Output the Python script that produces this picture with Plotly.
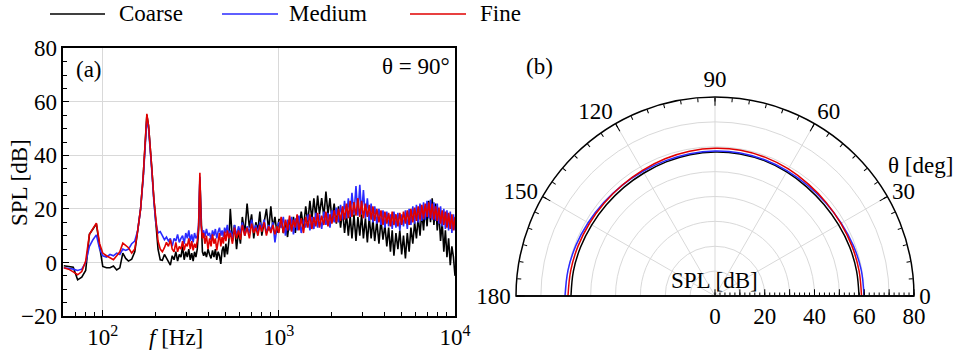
import plotly.graph_objects as go

W, H = 957, 354
FONT = "Liberation Serif, Times New Roman, Times, serif"
FS = 23

# ---------------- data: (a) spectrum at theta = 90 deg ----------------
freq_hz = [
    60, 64, 68, 72, 76, 80, 84, 88, 92, 96,
    100, 105, 110, 115, 120, 125, 130, 135, 140, 146,
    152, 158, 164, 170, 174, 178, 182, 186, 190, 195,
    200, 206, 212, 218, 224, 230, 236, 242, 248, 254,
    260, 266, 272, 278, 284, 290, 296,
    302, 308, 314, 320, 326, 332, 338, 344, 350, 356,
    362, 368, 374, 380, 388, 396, 404, 412, 420, 428,
    436, 444, 452, 460, 468, 476, 484, 492, 500, 510, 520,
    530, 545, 560, 575, 590, 605, 620, 640, 660, 680,
    700, 720, 740, 760, 780, 800, 825, 850, 875, 900,
    925, 950, 975, 1000,
    1030, 1060, 1090, 1120, 1150, 1180, 1210, 1240, 1270, 1300,
    1340, 1380, 1420, 1460, 1500, 1540, 1580, 1620, 1660, 1700,
    1750, 1800, 1850, 1900, 1950, 2000, 2060, 2120, 2180, 2240,
    2300, 2360, 2420, 2480, 2540, 2600, 2670, 2740, 2810, 2880,
    2950, 3020, 3100, 3180, 3260, 3340, 3420, 3500, 3600, 3700,
    3800, 3900, 4000, 4100, 4200, 4300, 4400, 4500, 4620, 4740,
    4860, 4980, 5100, 5230, 5360, 5490, 5620, 5760, 5900, 6040,
    6180, 6330, 6480, 6630, 6780, 6940, 7100, 7260, 7420, 7590,
    7760, 7930, 8100, 8280, 8460, 8640, 8820, 9000, 9200, 9400,
    9600, 9800, 10000,
]

spl_coarse = [
    -1.2, -1.5, -1.8, -6.5, -5.5, -3, 10.5, 12.5, 14.4, 6,
    -1.5, -2, -2, -1.3, -2.8, -2, 3.5, 1.5, 0.5, 1.2,
    4, 12, 20, 33, 46, 55, 51, 44, 35, 24,
    15, 5, 1, 0.8, 3, 1.5, 0.5, -1, 2.5, 1,
    4, 0.5, 3, 2, 6, 1, 4,
    2, 5, 1, 3.5, 0.5, 4, 2, 5, 12, 31,
    12, 4, 2.5, 4, 2, 5, 3, 1.5, 4.5, 2,
    5, 1, 4, 2.5, -0.5, 4.5, 6, 2, 7, 3, 8,
    20, 8, 14, 5, 12, 7, 17, 11, 22, 13,
    18, 9, 15, 12, 19, 10, 16, 20, 12, 21,
    13, 17, 11, 16,
    16, 11, 15, 9.5, 16, 12, 17, 11, 17.5, 12.5,
    19, 13, 21, 15, 23, 16, 24, 17, 25, 18,
    24, 17, 26.5, 18, 24, 16, 22, 14.5, 21, 13,
    19.5, 11, 18, 10, 17.5, 9, 18, 8, 17, 10,
    18, 9, 16.5, 7.5, 17, 9, 16, 8, 15.5, 7,
    16, 8.5, 14, 6, 13, 4, 12, 2.5, 11, 5,
    12, 3, 10, 1.5, 11, 4, 13, 7, 15, 9,
    17, 10, 19, 12, 21, 13.5, 23, 15, 24, 14,
    22, 12, 19, 8, 15, 4, 12, 2, 9, -1,
    6, 2, -5,
]

spl_medium = [
    -2, -2.2, -2.5, -3, -2.5, 0, 6, 8.5, 10.3, 5,
    2.5, 2, 3, 2.5, 3.5, 3, 5, 4.5, 5, 7,
    8, 12, 20, 32, 44, 53.5, 50, 43, 34, 23,
    15, 11, 11.5, 10, 8.5, 9.5, 8, 9, 6, 9,
    8, 10.5, 7.5, 9, 10, 7, 11,
    9, 12, 8, 10.5, 7.5, 11, 9, 10, 14, 32,
    14, 11, 12, 9.5, 12.5, 10, 11, 8.5, 12, 10,
    12.5, 9, 11.5, 13, 10, 12, 9.5, 13, 11, 14, 10,
    12, 9, 14, 10, 13.5, 11, 15, 10, 13.5, 11,
    16, 12, 14, 11, 15, 12.5, 16, 11, 14, 12,
    15, 7.5, 13, 15,
    13, 17, 10, 16, 12, 17, 10.5, 16.5, 12, 17.5,
    11, 16, 13, 18, 12, 17, 12.5, 18.5, 13, 18,
    12.5, 19, 14, 18.5, 13, 19.5, 15, 20.5, 15, 21.5,
    16, 23, 16.5, 24, 17, 26, 18, 28.5, 17.5, 29,
    18, 27, 16.5, 24, 15.5, 22, 15, 21, 14.5, 20,
    14, 19.5, 13, 19, 13.5, 18, 12.5, 19, 13, 18.5,
    12, 18, 13.5, 19.5, 12.5, 20, 14, 21, 14.5, 21.5,
    15, 22, 15.5, 22.5, 16, 23, 16.5, 23.5, 16, 22.5,
    15.5, 22, 14.5, 21, 13.5, 20, 12.5, 19.5, 12, 19,
    11, 18, 12,
]

spl_fine = [
    -2, -2.5, -3.5, -4.6, -3.4, 0.5, 10.5, 12.8, 14.7, 7,
    3.5, 2.5, 1.6, 1, 2.5, 4, 7.2, 6.5, 5.5, 3.5,
    5, 12, 20, 33, 46, 55.5, 51, 44, 35, 24,
    15, 8, 5, 4, 5.5, 7.5, 6, 8.5, 5, 4,
    7.5, 4, 6, 5, 8, 4.5, 7,
    6, 9, 5, 8, 4.5, 7, 5.5, 8, 13, 33.5,
    14, 9, 11, 7, 10, 5, 9, 6, 10.5, 7,
    9, 4.5, 8, 11, 6, 9.5, 7, 11.5, 8, 12, 9,
    11, 7, 13, 9, 12, 8.5, 14, 10, 13, 9,
    14.5, 11, 13, 10, 14, 11.5, 15, 10, 13.5, 11,
    14, 10.5, 13.5, 11,
    17, 11, 16, 12, 17.5, 11.5, 16, 13, 18, 12,
    16.5, 11, 17, 13, 18, 12.5, 17, 13.5, 18.5, 13,
    17.5, 14, 19, 13.5, 18, 14.5, 19.5, 15, 20, 15.5,
    21, 16, 22, 16.5, 23, 17, 22.5, 17.5, 24, 17,
    23, 16.5, 22, 17, 21.5, 16, 21, 15.5, 20, 15,
    19.5, 14, 19, 14.5, 18.5, 13.5, 19, 14, 18, 13.5,
    18.5, 14, 19, 14.5, 19.5, 14, 20, 15, 20.5, 15.5,
    21, 16, 21.5, 16.5, 22, 17, 22.5, 16.5, 22, 16,
    21, 15.5, 20.5, 14.5, 19.5, 14, 19, 13, 18.5, 12.5,
    18, 12, 17,
]

# ---------------- data: (b) directivity ----------------
theta_deg = [0, 10, 20, 30, 40, 50, 60, 70, 80, 90,
             100, 110, 120, 130, 140, 150, 160, 170, 180]
dir_coarse = [57.9, 57.8, 57.6, 57.3, 57.2, 57.3, 57.6, 57.9, 58.0, 57.9,
              57.7, 57.4, 57.1, 57.0, 57.0, 57.2, 57.5, 57.8, 57.9]
dir_medium = [59.9, 59.7, 59.2, 58.6, 58.2, 58.0, 58.1, 58.3, 58.4, 58.3,
              58.1, 57.9, 57.9, 58.1, 58.4, 58.9, 59.5, 60.0, 60.3]
dir_fine = [58.9, 58.8, 58.6, 58.4, 58.4, 58.6, 59.0, 59.3, 59.5, 59.4,
            59.1, 58.7, 58.3, 58.1, 58.1, 58.3, 58.6, 58.9, 59.1]

series_names = ["Coarse", "Medium", "Fine"]
series_colors = ["#000000", "#2a2aff", "#e00000"]
spectra = [spl_coarse, spl_medium, spl_fine]
directivity = [dir_coarse, dir_medium, dir_fine]

x_ticks = [100, 1000, 10000]
x_ticktext = ["10<sup>2</sup>", "10<sup>3</sup>", "10<sup>4</sup>"]
theta_ticks = [0, 30, 60, 90, 120, 150, 180]
r_ticks = [0, 10, 20, 30, 40, 50, 60, 70, 80]
r_ticktext = ["0", "", "20", "", "40", "", "60", "", "80"]

fig = go.Figure()
for name, color, y in zip(series_names, series_colors, spectra):
    fig.add_trace(go.Scatter(x=freq_hz, y=y, mode="lines", name=name,
                             line=dict(color=color, width=1.6), showlegend=False))
for name, color, r in zip(series_names, series_colors, directivity):
    fig.add_trace(go.Scatterpolar(r=r, theta=theta_deg, mode="lines", name=name,
                                  line=dict(color=color, width=1.5, shape="spline"),
                                  subplot="polar", showlegend=False))
fig.add_trace(go.Scatterpolar(r=[], theta=[], subplot="polar2", showlegend=False))
fig.add_trace(go.Scatterpolar(r=[], theta=[], subplot="polar3", showlegend=False))

GRID = "#d9d9d9"
tickfont = dict(family=FONT, size=FS, color="black")

pdom_x = [516 / W, 914 / W]
pdom_y = [58 / H, 257 / H]

fig.update_layout(
    width=W, height=H, template="none",
    margin=dict(l=0, r=0, t=0, b=0),
    paper_bgcolor="white", plot_bgcolor="white",
    font=dict(family=FONT, size=FS, color="black"),
    showlegend=False,
    xaxis=dict(type="log", range=[1.776, 4.0], domain=[63.3 / W, 455 / W],
               tickmode="array", tickvals=x_ticks, ticktext=x_ticktext,
               ticks="inside", ticklen=6, tickcolor="black", tickwidth=1,
               showline=True, linecolor="black", linewidth=1.5, mirror=True,
               showgrid=True, gridcolor=GRID, gridwidth=1, zeroline=False,
               tickfont=tickfont, automargin=False,
               minor=dict(ticks="inside", ticklen=4, tickcolor="black", dtick="D1", showgrid=False)),
    yaxis=dict(range=[-20, 80], domain=[38 / H, 305.7 / H],
               tickmode="linear", tick0=0, dtick=20,
               ticks="inside", ticklen=6, tickcolor="black", tickwidth=1,
               showline=True, linecolor="black", linewidth=1.5, mirror=True,
               showgrid=True, gridcolor=GRID, gridwidth=1, zeroline=False,
               tickfont=tickfont, automargin=False,
               minor=dict(ticks="inside", ticklen=4, tickcolor="black", dtick=5, showgrid=False)),
    polar=dict(
        domain=dict(x=pdom_x, y=pdom_y), sector=[0, 180], bgcolor="white",
        angularaxis=dict(tickmode="array", tickvals=theta_ticks,
                         ticktext=[str(t) for t in theta_ticks],
                         direction="counterclockwise", rotation=0,
                         ticks="inside", ticklen=8, tickcolor="black",
                         showline=True, linecolor="black", linewidth=1.5,
                         showgrid=True, gridcolor=GRID, tickfont=tickfont),
        radialaxis=dict(range=[0, 80], angle=0, side="clockwise",
                        tickmode="array", tickvals=r_ticks, ticktext=r_ticktext,
                        ticks="inside", ticklen=6, tickcolor="black",
                        showline=True, linecolor="black", linewidth=1.5,
                        showgrid=True, gridcolor=GRID, tickfont=tickfont, tickangle=0),
    ),
    polar2=dict(
        domain=dict(x=pdom_x, y=pdom_y), sector=[0, 180], bgcolor="rgba(0,0,0,0)",
        angularaxis=dict(tickmode="array", tickvals=list(range(0, 181, 5)),
                         direction="counterclockwise", rotation=0,
                         ticks="inside", ticklen=4, tickcolor="black",
                         showticklabels=False, showline=False, showgrid=False),
        radialaxis=dict(range=[0, 80], angle=0, side="clockwise",
                        tickmode="array", tickvals=list(range(0, 81, 2)),
                        ticks="inside", ticklen=3, tickcolor="black",
                        showticklabels=False, showline=False, showgrid=False),
    ),
    polar3=dict(
        domain=dict(x=pdom_x, y=pdom_y), sector=[0, 180], bgcolor="rgba(0,0,0,0)",
        angularaxis=dict(ticks="", showticklabels=False, showline=False, showgrid=False,
                         direction="counterclockwise", rotation=0),
        radialaxis=dict(range=[0, 80], angle=180, ticks="", showticklabels=False,
                        showline=True, linecolor="black", linewidth=1.5, showgrid=False),
    ),
)


def px(x, y):
    return x / W, 1 - y / H


annots = [
    ("(a)", 74, 69, "left", 0),
    ("\u03b8 = 90\u00b0", 452, 67, "right", 0),
    ("(b)", 524, 67, "left", 0),
    ("SPL [dB]", 714, 280, "center", 0),
    ("\u03b8 [deg]", 886, 165, "left", 0),
    ("<i>f</i> [Hz]", 176, 337, "center", 0),
    ("SPL [dB]", 20, 183, "center", -90),
]
for text, x, y, anchor, ang in annots:
    ax, ay = px(x, y)
    fig.add_annotation(text=text, x=ax, y=ay, xref="paper", yref="paper",
                       xanchor=anchor, yanchor="middle", showarrow=False,
                       textangle=ang, font=dict(family=FONT, size=FS, color="black"))

# custom legend (layout decoration)
legend_pos = [(50, 105, 117), (222, 278, 287), (410, 466, 478)]
for (x0, x1, xt), name, color in zip(legend_pos, series_names, series_colors):
    yy = 1 - 14 / H
    fig.add_shape(type="line", xref="paper", yref="paper", x0=x0 / W, x1=x1 / W,
                  y0=yy, y1=yy, line=dict(color=color, width=1.5))
    fig.add_annotation(text=name, x=xt / W, y=yy, xref="paper", yref="paper",
                       xanchor="left", yanchor="middle", showarrow=False,
                       font=dict(family=FONT, size=FS, color="black"))

fig.write_html("out.html")
